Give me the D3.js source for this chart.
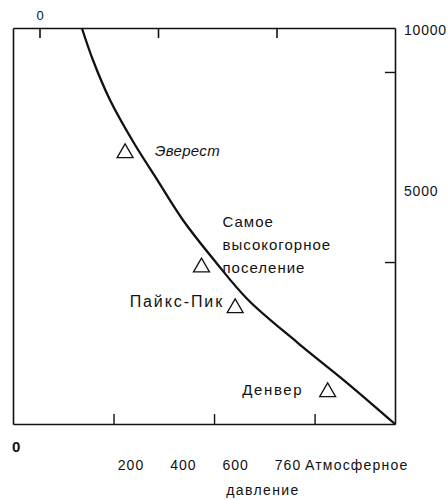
<!DOCTYPE html>
<html>
<head>
<meta charset="utf-8">
<script src="https://cdn.jsdelivr.net/npm/d3@7"></script>
<style>
  html, body { margin: 0; padding: 0; background: #fff; }
  svg { display: block; }
  text { font-family: "Liberation Sans", Arial, sans-serif; fill: #111; }
</style>
</head>
<body>
<svg id="chart" width="448" height="500"></svg>
<script>
// ---- data ----
// pressure (mm Hg) vs altitude (m) along the curve
const curvePressure = [137, 159, 193, 237, 287, 338, 400, 468, 567, 665, 760];
const curveAltitude = [10000, 9192, 8182, 7172, 6162, 5152, 4141, 3131, 2045, 1035, 0];

// marked places
const siteNames     = ["Эверест", "Самое высокогорное поселение", "Пайкс-Пик", "Денвер"];
const sitePressure  = [223, 375, 442, 626];
const siteAltitude  = [6843, 3957, 2929, 808];

// axis ticks and labels
const bottomTicks     = [200, 400, 600];
const bottomLabels    = ["200", "400", "600", "760"];
const axisTitleLines  = ["Атмосферное", "давление"];
const topTicks        = [0, 1, 2];
const topLabels       = ["0"];
const rightTicks      = [8890, 4090];
const rightLabels     = ["10000", "5000"];
const originLabel     = "0";

// ---- layout ----
const svg = d3.select("#chart");
const frame = { left: 13, right: 395, top: 28, bottom: 424 };

const x = d3.scaleLinear().domain([0, 760]).range([frame.left, frame.right]);
const y = d3.scaleLinear().domain([0, 10000]).range([frame.bottom, frame.top]);
const xTop = d3.scaleLinear().domain([0, 2]).range([40, 277]);
const xLabel = d3.scalePoint().domain(bottomLabels).range([131, 288]);
const yLabel = d3.scalePoint().domain(rightLabels).range([29, 190]);

function styleAxis(g) {
  g.selectAll("path.domain").attr("stroke", "#111").attr("stroke-width", 1.6);
  g.selectAll(".tick line").attr("stroke", "#111").attr("stroke-width", 1.4);
  g.selectAll(".tick text").remove();
}

// bottom axis (ticks pointing up)
svg.append("g")
  .attr("transform", `translate(0,${frame.bottom})`)
  .call(d3.axisBottom(x).tickValues(bottomTicks).tickSizeInner(-10).tickSizeOuter(0).tickFormat(""))
  .call(styleAxis);

// top frame line
svg.append("g")
  .attr("transform", `translate(0,${frame.top})`)
  .call(d3.axisTop(x).tickValues([]).tickSizeOuter(0))
  .call(styleAxis);

// top ticks (pointing down)
svg.append("g")
  .selectAll("line")
  .data(topTicks)
  .join("line")
  .attr("x1", d => xTop(d))
  .attr("x2", d => xTop(d))
  .attr("y1", frame.top)
  .attr("y2", frame.top + 10)
  .attr("stroke", "#111")
  .attr("stroke-width", 1.6);

// left axis (plain line)
svg.append("g")
  .attr("transform", `translate(${frame.left},0)`)
  .call(d3.axisLeft(y).tickValues([]).tickSizeOuter(0))
  .call(styleAxis);

// right axis (ticks pointing inward)
svg.append("g")
  .attr("transform", `translate(${frame.right},0)`)
  .call(d3.axisRight(y).tickValues(rightTicks).tickSizeInner(-10).tickSizeOuter(0).tickFormat(""))
  .call(styleAxis);

// ---- curve ----
const curveData = curvePressure.map((p, i) => ({ p, a: curveAltitude[i] }));
svg.append("path")
  .datum(curveData)
  .attr("fill", "none")
  .attr("stroke", "#111")
  .attr("stroke-width", 2.3)
  .attr("d", d3.line().x(d => x(d.p)).y(d => y(d.a)).curve(d3.curveCatmullRom.alpha(0.5)));

// ---- sites ----
const sites = siteNames.map((name, i) => ({ name, p: sitePressure[i], a: siteAltitude[i] }));
svg.selectAll("path.site")
  .data(sites)
  .join("path")
  .attr("class", "site")
  .attr("transform", d => `translate(${x(d.p)},${y(d.a)})`)
  .attr("d", d3.symbol(d3.symbolTriangle, 110))
  .attr("fill", "#fff")
  .attr("stroke", "#111")
  .attr("stroke-width", 1.3);

// site label placement (offsets from the marker)
const labelStyle = [
  { dx: 30, dy: [3], anchor: "start", italic: true, size: 15, ls: 0.3, lines: ["Эверест"] },
  { dx: 21, dy: [-40, -17, 6], anchor: "start", italic: false, size: 15, ls: 1.0, lines: ["Самое", "высокогорное", "поселение"] },
  { dx: -13, dy: [-1], anchor: "end", italic: false, size: 16, ls: 1.9, lines: ["Пайкс-Пик"] },
  { dx: -26, dy: [3], anchor: "end", italic: false, size: 15, ls: 1.6, lines: ["Денвер"] }
];
sites.forEach((s, i) => {
  const st = labelStyle[i];
  st.lines.forEach((line, j) => {
    svg.append("text")
      .attr("x", x(s.p) + st.dx + (st.anchor === "end" ? st.ls : 0))
      .attr("y", y(s.a) + st.dy[j])
      .attr("text-anchor", st.anchor)
      .attr("font-size", st.size)
      .attr("letter-spacing", st.ls)
      .attr("font-style", st.italic ? "italic" : "normal")
      .text(line);
  });
});

// ---- axis labels ----
svg.selectAll("text.blabel")
  .data(bottomLabels)
  .join("text")
  .attr("class", "blabel")
  .attr("x", d => xLabel(d))
  .attr("y", 470)
  .attr("text-anchor", "middle")
  .attr("font-size", 14)
  .attr("letter-spacing", 1)
  .text(d => d);

svg.append("text")
  .attr("x", 305).attr("y", 470)
  .attr("font-size", 14).attr("letter-spacing", 1.2)
  .text(axisTitleLines[0]);
svg.append("text")
  .attr("x", 263).attr("y", 495)
  .attr("text-anchor", "middle")
  .attr("font-size", 14).attr("letter-spacing", 1.4)
  .text(axisTitleLines[1]);

svg.selectAll("text.rlabel")
  .data(rightLabels)
  .join("text")
  .attr("class", "rlabel")
  .attr("x", 404)
  .attr("y", d => yLabel(d) + 6)
  .attr("font-size", 14)
  .attr("letter-spacing", 0.8)
  .text(d => d);

svg.append("text")
  .attr("x", xTop(0)).attr("y", 20)
  .attr("text-anchor", "middle")
  .attr("font-size", 13)
  .text(topLabels[0]);

svg.append("text")
  .attr("x", 12).attr("y", 452)
  .attr("font-size", 15)
  .attr("font-weight", "bold")
  .text(originLabel);
</script>
</body>
</html>
